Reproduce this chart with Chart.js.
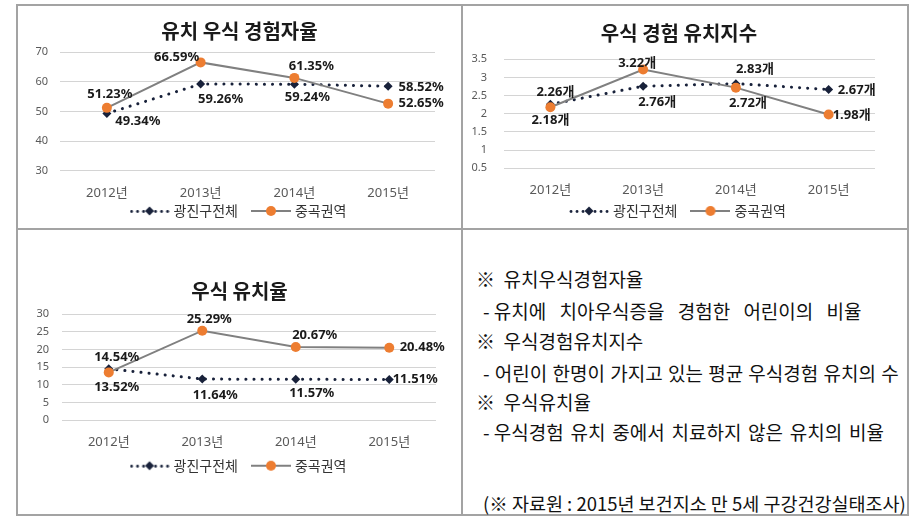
<!DOCTYPE html>
<html>
<head>
<meta charset="utf-8">
<script src="https://cdn.jsdelivr.net/npm/chart.js@4.4.0/dist/chart.umd.min.js"></script>
<style>
body { margin: 0; background: #fff; width: 914px; height: 516px; position: relative; overflow: hidden; font-family: "Noto Sans CJK KR", sans-serif; }
.ln { position: absolute; background: #a3a3a3; }
canvas { position: absolute; }
.note { position: absolute; font-size: 19px; line-height: 24px; color: #111; white-space: pre; }
.note span { word-spacing: 0; }
</style>
</head>
<body>
<div class="ln" style="left:16px;top:4px;width:893px;height:2px"></div>
<div class="ln" style="left:16px;top:514px;width:893px;height:2px"></div>
<div class="ln" style="left:16px;top:4px;width:2px;height:512px"></div>
<div class="ln" style="left:907px;top:4px;width:2px;height:512px"></div>
<div class="ln" style="left:461px;top:4px;width:2px;height:512px"></div>
<div class="ln" style="left:16px;top:228px;width:893px;height:2px"></div>

<canvas id="rateChart" width="443" height="222" style="left:18px;top:6px"></canvas>
<canvas id="indexChart" width="444" height="222" style="left:463px;top:6px"></canvas>
<canvas id="decayChart" width="443" height="284" style="left:18px;top:230px"></canvas>

<div class="note" style="left:476px;top:267px">※  유치우식경험자율</div>
<div class="note" style="left:483px;top:299px;word-spacing:9px"><span>- </span>유치에 치아우식증을 경험한 어린이의 비율</div>
<div class="note" style="left:476px;top:329px">※  우식경험유치지수</div>
<div class="note" style="left:483px;top:361px;word-spacing:1px">- 어린이 한명이 가지고 있는 평균 우식경험 유치의 수</div>
<div class="note" style="left:476px;top:390px">※  우식유치율</div>
<div class="note" style="left:483px;top:420px;word-spacing:2.5px"><span>- </span>우식경험 유치 중에서 치료하지 않은 유치의 비율</div>
<div class="note" style="left:483px;top:491px;font-size:18.5px">(※ 자료원 : 2015년 보건지소 만 5세 구강건강실태조사)</div>

<script>
const years = ["2012년", "2013년", "2014년", "2015년"];
const seriesNames = ["광진구전체", "중곡권역"];

// 유치 우식 경험자율 (%)
const rateAll = [49.34, 59.26, 59.24, 58.52];
const rateJunggok = [51.23, 66.59, 61.35, 52.65];

// 우식 경험 유치지수 (개)
const indexAll = [2.26, 2.76, 2.83, 2.67];
const indexJunggok = [2.18, 3.22, 2.72, 1.98];

// 우식 유치율 (%)
const decayAll = [14.54, 11.64, 11.57, 11.51];
const decayJunggok = [13.52, 25.29, 20.67, 20.48];

const NAVY = "#18213a";
const ORANGE = "#ed7d31";
const GRAY = "#808080";
const FONT = "'Noto Sans', 'Noto Sans CJK KR', sans-serif";

// legend swatches: dotted line with diamond, solid line with circle
function swatch(kind) {
    const c = document.createElement("canvas");
    c.width = 40;
    c.height = 12;
    const g = c.getContext("2d");
    if (kind === "dot") {
        g.fillStyle = NAVY;
        [1, 7, 13, 25, 31, 37].forEach(x => {
            g.beginPath();
            g.arc(x + 1, 6.5, 1.4, 0, Math.PI * 2);
            g.fill();
        });
        g.beginPath();
        g.moveTo(20, 1.5); g.lineTo(24.5, 6); g.lineTo(20, 10.5); g.lineTo(15.5, 6);
        g.closePath();
        g.fill();
    } else {
        g.strokeStyle = GRAY;
        g.lineWidth = 2;
        g.beginPath();
        g.moveTo(0, 6); g.lineTo(40, 6);
        g.stroke();
        g.fillStyle = ORANGE;
        g.beginPath();
        g.arc(20, 6, 5, 0, Math.PI * 2);
        g.fill();
    }
    return c;
}
const swatches = [swatch("dot"), swatch("line")];

// per-point label offsets [dx, dy] in px
function labelPlugin(suffix, offsets) {
    return {
        id: "pointLabels",
        afterDatasetsDraw(chart) {
            const ctx = chart.ctx;
            ctx.save();
            ctx.font = "bold 13px " + FONT;
            ctx.fillStyle = "#1a1a1a";
            ctx.textAlign = "center";
            ctx.textBaseline = "middle";
            chart.data.datasets.forEach((ds, i) => {
                chart.getDatasetMeta(i).data.forEach((pt, j) => {
                    const off = offsets[i][j];
                    ctx.fillText(ds.data[j].toFixed(2) + suffix, pt.x + off[0], pt.y + off[1]);
                });
            });
            ctx.restore();
        }
    };
}

function makeChart(id, L, title, yRange, allValues, junggokValues, suffix, offsets) {
    new Chart(document.getElementById(id), {
        type: "line",
        data: {
            labels: years,
            datasets: [
                {
                    label: seriesNames[0],
                    data: allValues,
                    borderColor: NAVY,
                    borderWidth: 3,
                    borderDash: [0.1, 8],
                    borderCapStyle: "round",
                    pointStyle: "rectRot",
                    pointRadius: 4.5,
                    pointBackgroundColor: NAVY,
                    pointBorderColor: NAVY,
                    pointBorderWidth: 0,
                    order: 1
                },
                {
                    label: seriesNames[1],
                    data: junggokValues,
                    borderColor: GRAY,
                    borderWidth: 2,
                    pointStyle: "circle",
                    pointRadius: 5,
                    pointBackgroundColor: ORANGE,
                    pointBorderColor: ORANGE,
                    pointBorderWidth: 0,
                    order: 0
                }
            ]
        },
        options: {
            responsive: false,
            animation: false,
            layout: {
                padding: { left: 0, top: 0, right: L.padR, bottom: L.padB }
            },
            plugins: {
                title: {
                    display: true,
                    text: title,
                    color: "#1a1a1a",
                    font: { family: "'Noto Sans CJK KR', sans-serif", size: 20, weight: "bold" },
                    padding: { top: L.titleY - 12, bottom: L.t - L.titleY - 12 }
                },
                legend: {
                    position: "bottom",
                    labels: {
                        usePointStyle: true,
                        pointStyleWidth: 34,
                        padding: 2,
                        color: "#333",
                        font: { family: "'Noto Sans CJK KR', sans-serif", size: 14 },
                        sort: (a, b) => a.datasetIndex - b.datasetIndex,
                        generateLabels: chart => Chart.defaults.plugins.legend.labels.generateLabels(chart).map(item => {
                            item.pointStyle = swatches[item.datasetIndex];
                            if (item.datasetIndex === 0) item.text += "\u2002\u2002";
                            return item;
                        })
                    }
                },
                tooltip: { enabled: false }
            },
            scales: {
                x: {
                    offset: true,
                    grid: { display: false },
                    border: { display: false },
                    ticks: { color: "#595959", padding: L.xPad, maxRotation: 0, font: { family: FONT, size: 13 } },
                    afterFit: s => { s.height = L.h - L.padB - 26 - L.b; }
                },
                y: {
                    min: yRange[0],
                    max: yRange[1],
                    grid: { color: "#d4d4d4", drawTicks: false },
                    border: { display: false },
                    ticks: {
                        stepSize: yRange[2],
                        color: "#595959",
                        padding: L.yPad,
                        font: { family: FONT, size: 11 },
                        callback: v => String(Math.round(v * 10) / 10)
                    },
                    afterFit: s => { s.width = L.l; }
                },
                yRight: {
                    position: "right",
                    grid: { display: false },
                    border: { display: false },
                    ticks: { display: false },
                    afterFit: s => { s.width = L.w - L.r - L.padR; }
                }
            }
        },
        plugins: [labelPlugin(suffix, offsets)]
    });
}

makeChart("rateChart",
    { w: 443, h: 222, l: 42, r: 417, t: 46.3, b: 164.7, titleY: 25, xPad: 6.5, yPad: 12, padR: 0, padB: 0 },
    "유치 우식 경험자율", [30, 70, 10], rateAll, rateJunggok, "%",
    [
        [[31, 8], [20, 15], [13, 13], [33, 1]],
        [[3, -14], [-24, -5], [17, -12], [33, 0]]
    ]);

makeChart("indexChart",
    { w: 444, h: 222, l: 41, r: 412, t: 53.3, b: 162.3, titleY: 27, xPad: 6, yPad: 17, padR: 12, padB: 0 },
    "우식 경험 유치지수", [0.5, 3.5, 0.5], indexAll, indexJunggok, "개",
    [
        [[5, -12], [14, 16], [19, -14], [28, 1]],
        [[0, 13], [-6, -6], [12, 16], [23, 1]]
    ]);

makeChart("decayChart",
    { w: 443, h: 284, l: 44, r: 418, t: 84, b: 190.3, titleY: 61, xPad: 6.5, yPad: 13, padR: 0, padB: 31.3 },
    "우식 유치율", [0, 30, 5], decayAll, decayJunggok, "%",
    [
        [[8, -11], [13, 16], [16, 14], [26, 0]],
        [[8, 15], [7, -11], [19, -12], [33, 0]]
    ]);
</script>
</body>
</html>
